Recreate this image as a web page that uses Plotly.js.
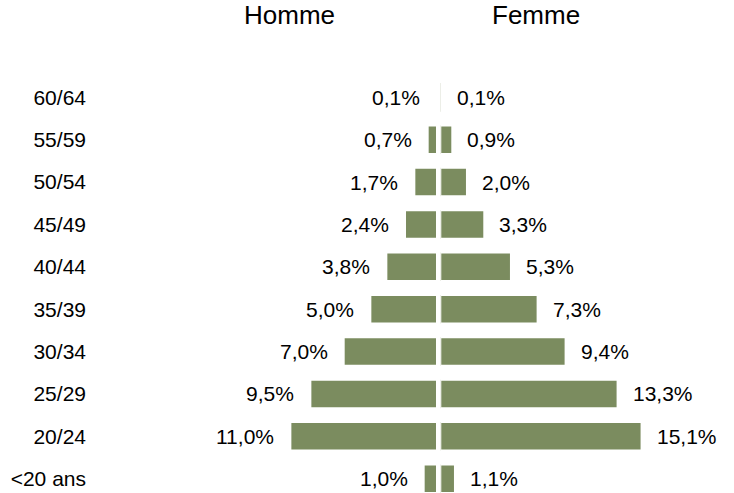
<!DOCTYPE html>
<html>
<head>
<meta charset="utf-8">
<script src="https://cdn.plot.ly/plotly-3.0.1.min.js"></script>
<style>html,body{margin:0;padding:0;background:#fff;}#chart{width:734px;height:493px;}</style>
</head>
<body>
<div id="chart"></div>
<script>
var categories = ["<20 ans", "20/24", "25/29", "30/34", "35/39", "40/44", "45/49", "50/54", "55/59", "60/64"];
var homme = [1.0, 11.0, 9.5, 7.0, 5.0, 3.8, 2.4, 1.7, 0.7, 0.1];
var femme = [1.1, 15.1, 13.3, 9.4, 7.3, 5.3, 3.3, 2.0, 0.9, 0.1];
var seriesNames = ["Homme", "Femme"];

var barColor = "#7B8C5F";
var font = "Liberation Sans, Arial, sans-serif";
var pxPerPct = 13.33;

function fmt(v) { return v.toFixed(1).replace(".", ",") + "%"; }

var traces = [
  {type: "bar", orientation: "h", y: categories, x: homme, xaxis: "x", yaxis: "y",
   marker: {color: barColor, line: {color: "#ffffff", width: 2}}, hoverinfo: "none", name: seriesNames[0]},
  {type: "bar", orientation: "h", y: categories, x: femme, xaxis: "x2", yaxis: "y",
   marker: {color: barColor, line: {color: "#ffffff", width: 2}}, hoverinfo: "none", name: seriesNames[1]}
];

var annotations = [];
categories.forEach(function (c, i) {
  annotations.push({xref: "x", yref: "y", x: homme[i], y: c, text: fmt(homme[i]),
    xanchor: "right", yanchor: "middle", xshift: -14, showarrow: false,
    font: {family: font, size: 21, color: "#000"}});
  annotations.push({xref: "x2", yref: "y", x: femme[i], y: c, text: fmt(femme[i]),
    xanchor: "left", yanchor: "middle", xshift: 13, showarrow: false,
    font: {family: font, size: 21, color: "#000"}});
});
annotations.push({xref: "paper", yref: "paper", x: (289.5 - 90) / 644, y: 1.078, text: seriesNames[0],
  xanchor: "center", yanchor: "middle", showarrow: false, font: {family: font, size: 26, color: "#000"}});
annotations.push({xref: "paper", yref: "paper", x: (536 - 90) / 644, y: 1.078, text: seriesNames[1],
  xanchor: "center", yanchor: "middle", showarrow: false, font: {family: font, size: 26, color: "#000"}});

var layout = {
  width: 734, height: 493,
  margin: {l: 90, r: 0, t: 50, b: 0, pad: 0},
  paper_bgcolor: "#fff", plot_bgcolor: "#fff",
  showlegend: false,
  bargap: 0.327,
  xaxis: {domain: [0, (437 - 90) / 644], range: [(437 - 90) / pxPerPct, 0], visible: false, fixedrange: true},
  xaxis2: {domain: [(440.3 - 90) / 644, 1], range: [0, (734 - 440.3) / pxPerPct], visible: false, fixedrange: true},
  yaxis: {type: "category", categoryorder: "array", categoryarray: categories,
    range: [-0.3375, 10.118], anchor: "x", showgrid: false, zeroline: false, showline: false,
    ticks: "", ticklabelstandoff: 3, tickfont: {family: font, size: 21, color: "#000"}, fixedrange: true},
  annotations: annotations,
  font: {family: font}
};

Plotly.newPlot("chart", traces, layout, {displayModeBar: false, staticPlot: true});
</script>
</body>
</html>
